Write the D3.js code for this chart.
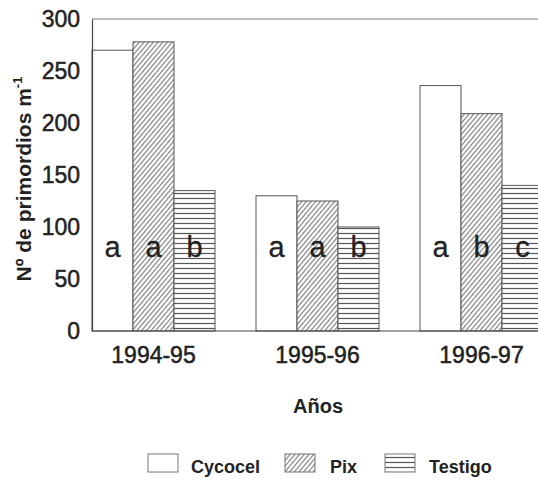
<!DOCTYPE html>
<html>
<head>
<meta charset="utf-8">
<script src="https://cdn.jsdelivr.net/npm/d3@7/dist/d3.min.js"></script>
<style>
  html, body { margin: 0; padding: 0; background: #fff; }
  svg { display: block; font-family: "Liberation Sans", Arial, Helvetica, sans-serif; }
</style>
</head>
<body>
<svg id="chart" width="538" height="481"></svg>
<script>
const years = ["1994-95", "1995-96", "1996-97"];
const seriesNames = ["Cycocel", "Pix", "Testigo"];
const cycocel = [270, 130, 236];
const pix = [278, 125, 209];
const testigo = [135, 100, 140];
const lettersCycocel = ["a", "a", "a"];
const lettersPix = ["a", "a", "b"];
const lettersTestigo = ["b", "b", "c"];
const yTicks = [0, 50, 100, 150, 200, 250, 300];
const yTitle = "Nº de primordios m";
const ySup = "-1";
const xTitle = "Años";

(function () {
const seriesValues = [cycocel, pix, testigo];
const seriesLetters = [lettersCycocel, lettersPix, lettersTestigo];

const svg = d3.select("#chart");
const W = 538;
const mLeft = 92, mTop = 19, mBottom = 331, rightEnd = 543;

const defs = svg.append("defs");
// Pix: diagonal hatch
const pPix = defs.append("pattern").attr("id", "hatchPix")
  .attr("patternUnits", "userSpaceOnUse").attr("width", 3.6).attr("height", 3.6)
  .attr("patternTransform", "rotate(40)");
pPix.append("rect").attr("width", 3.6).attr("height", 3.6).attr("fill", "#fff");
pPix.append("line").attr("x1", 0.6).attr("y1", 0).attr("x2", 0.6).attr("y2", 3.6)
  .attr("stroke", "#777").attr("stroke-width", 1.1);
// Testigo: horizontal lines
const pTes = defs.append("pattern").attr("id", "hatchTes")
  .attr("patternUnits", "userSpaceOnUse").attr("width", 10).attr("height", 5)
  .attr("y", mBottom);
pTes.append("rect").attr("width", 10).attr("height", 5).attr("fill", "#fff");
pTes.append("line").attr("x1", 0).attr("y1", 2.5).attr("x2", 10).attr("y2", 2.5)
  .attr("stroke", "#555").attr("stroke-width", 1.2);

const fills = ["#fff", "url(#hatchPix)", "url(#hatchTes)"];

const x0 = d3.scaleBand().domain(years).range([mLeft, rightEnd]).paddingInner(0.25).paddingOuter(0);
const x1 = d3.scaleBand().domain(seriesNames).range([0, x0.bandwidth()]).padding(0);
const y = d3.scaleLinear().domain([0, 300]).range([mBottom, mTop]);

// frame: top line
svg.append("line").attr("x1", mLeft).attr("x2", W).attr("y1", y(300)).attr("y2", y(300))
  .attr("stroke", "#777").attr("stroke-width", 1.2);

// bars
const data = [];
years.forEach((yr, i) => {
  seriesNames.forEach((s, j) => {
    data.push({ yr, s, j, v: seriesValues[j][i], l: seriesLetters[j][i] });
  });
});

svg.append("g").selectAll("rect").data(data).join("rect")
  .attr("x", d => x0(d.yr) + x1(d.s))
  .attr("y", d => y(d.v))
  .attr("width", x1.bandwidth())
  .attr("height", d => y(0) - y(d.v))
  .attr("fill", d => fills[d.j])
  .attr("stroke", "#555")
  .attr("stroke-width", 1);

// letters
svg.append("g").selectAll("text").data(data).join("text")
  .attr("x", d => x0(d.yr) + x1(d.s) + x1.bandwidth() / 2)
  .attr("y", 257)
  .attr("text-anchor", "middle")
  .attr("font-size", 29)
  .attr("fill", "#222")
  .attr("stroke", "#222").attr("stroke-width", 0.3)
  .text(d => d.l);

// y axis
const yAxis = d3.axisLeft(y).tickValues(yTicks).tickSize(0).tickPadding(12);
const gy = svg.append("g").attr("transform", `translate(${mLeft},0)`).call(yAxis);
gy.select(".domain").attr("stroke", "#444").attr("stroke-width", 1.2);
gy.selectAll("text").attr("font-size", 23).attr("fill", "#222")
  .attr("stroke", "#222").attr("stroke-width", 0.5)
  .attr("font-family", "'Liberation Sans', Arial, sans-serif");

// x axis
const xAxis = d3.axisBottom(x0).tickSize(0).tickPadding(16);
const gx = svg.append("g").attr("transform", `translate(0,${mBottom})`).call(xAxis);
gx.select(".domain").remove();
svg.append("line").attr("x1", mLeft).attr("x2", W).attr("y1", mBottom).attr("y2", mBottom)
  .attr("stroke", "#444").attr("stroke-width", 1.2);
gx.selectAll("text").attr("font-size", 23).attr("fill", "#222")
  .attr("stroke", "#222").attr("stroke-width", 0.5)
  .attr("font-family", "'Liberation Sans', Arial, sans-serif");

// axis titles
const yt = svg.append("text")
  .attr("transform", `translate(31,${(mTop + mBottom) / 2 + 4}) rotate(-90)`)
  .attr("text-anchor", "middle").attr("font-size", 21).attr("font-weight", "bold").attr("fill", "#222");
yt.append("tspan").text(yTitle);
yt.append("tspan").attr("font-size", 13).attr("dy", -9).text(ySup);

svg.append("text").attr("x", 318).attr("y", 413).attr("text-anchor", "middle")
  .attr("font-size", 20).attr("font-weight", "bold").attr("fill", "#222").text(xTitle);

// legend
const legX = [148, 285, 385];
const leg = svg.append("g").selectAll("g").data(seriesNames).join("g")
  .attr("transform", (d, i) => `translate(${legX[i]},454)`);
leg.append("rect").attr("width", 30).attr("height", 18)
  .attr("fill", (d, i) => fills[i]).attr("stroke", "#777").attr("stroke-width", 1);
leg.append("text").attr("x", (d, i) => [43, 45, 44][i]).attr("y", 19)
  .attr("font-size", 18).attr("font-weight", "bold").attr("fill", "#222").text(d => d);
})();
</script>
</body>
</html>
